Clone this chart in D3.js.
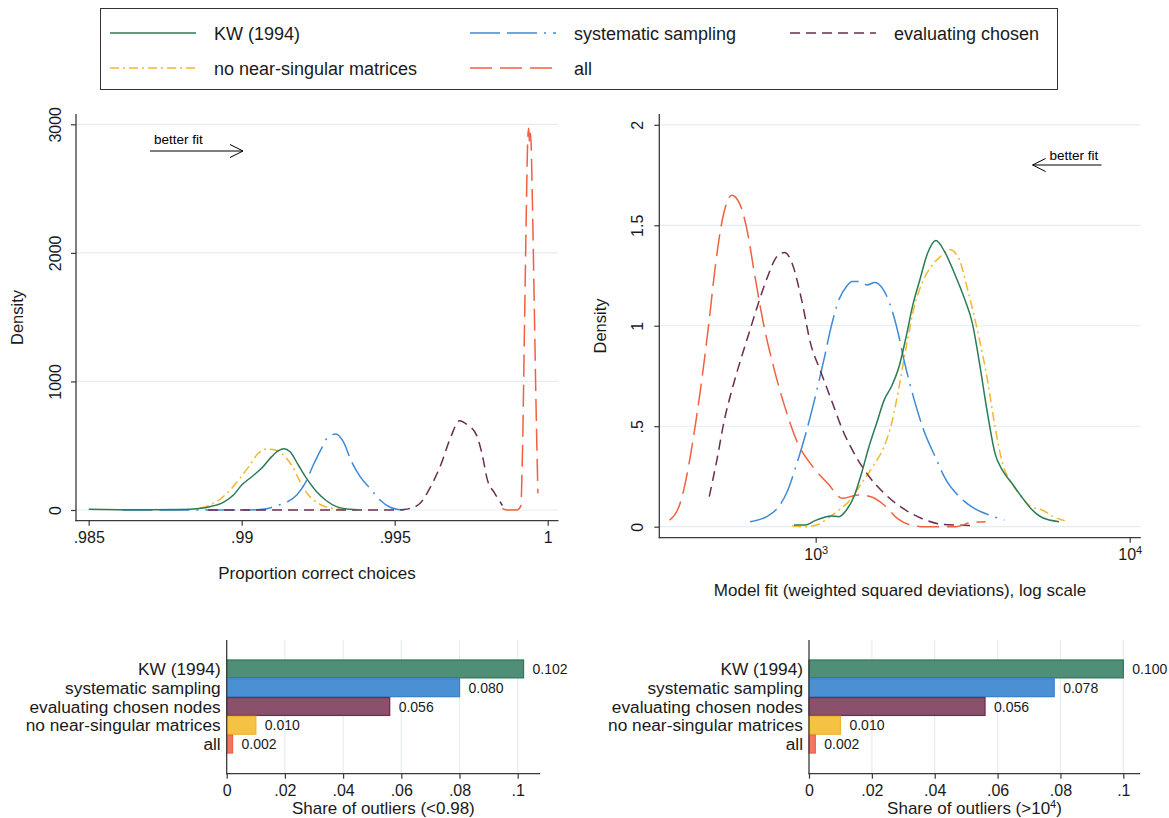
<!DOCTYPE html>
<html>
<head>
<meta charset="utf-8">
<script src="https://cdn.jsdelivr.net/npm/d3@7"></script>
<style>
  body { margin: 0; background: #fff; }
  svg { font-family: "Liberation Sans", Arial, sans-serif; }
</style>
</head>
<body>
<svg id="chart" width="1169" height="818"></svg>
<script>
// ---- data ----

// legend / series order
var seriesNames = ["KW (1994)", "systematic sampling", "evaluating chosen", "no near-singular matrices", "all"];

// top left: density of proportion of correct choices, [proportion, density]
var kwProp = [[0.985,5],[0.986,2],[0.987,1],[0.988,3],[0.9886,12],[0.98896,26],[0.9894,60],[0.98973,117],[0.99,194],
  [0.99033,259],[0.99065,324],[0.99098,415],[0.9912,461],[0.99138,477],[0.99158,453],[0.99185,350],[0.99212,246],
  [0.99245,142],[0.99278,70],[0.9931,26],[0.99354,5],[0.9938,1]];
var sysProp = [[0.9861,0],[0.988,0],[0.99,0],[0.9905,2],[0.99085,12],[0.99114,34],[0.99147,60],[0.9918,117],[0.99207,207],
  [0.99234,350],[0.99261,480],[0.99283,570],[0.99308,591],[0.99332,531],[0.99359,376],[0.99387,259],[0.99419,169],
  [0.99452,78],[0.99485,21],[0.99512,3],[0.9953,0]];
var evalProp = [[0.9889,0],[0.991,0],[0.993,0],[0.995,0],[0.9953,4],[0.9955,13],[0.99583,52],[0.99615,170],[0.99652,360],
  [0.99682,560],[0.99712,694],[0.99736,665],[0.99767,584],[0.99785,441],[0.99803,234],[0.99827,130],[0.99852,35]];
var nearProp = [[0.98864,13],[0.98918,65],[0.98962,155],[0.98994,246],[0.99027,350],[0.99054,441],[0.99082,474],
  [0.99109,467],[0.99136,428],[0.99163,350],[0.99191,220],[0.99218,117],[0.99256,44],[0.99299,13],[0.99354,3]];
var allProp = [[0.99852,12],[0.99865,0],[0.999,0],[0.99912,30],[0.99918,500],[0.99924,1400],[0.9993,2300],[0.99935,2900],
  [0.99938,2970],[0.99941,2850],[0.99944,2930],[0.9995,2400],[0.99956,1600],[0.99962,800],[0.99968,130]];

// top right: density of model fit, [log10 of weighted squared deviations, density]
var kwFit = [[2.931,0.008],[2.966,0.008],[2.998,0.03],[3.026,0.046],[3.05,0.053],[3.074,0.05],[3.098,0.083],[3.122,0.15],
  [3.146,0.266],[3.17,0.4],[3.194,0.515],[3.218,0.63],[3.242,0.7],[3.266,0.8],[3.29,0.96],[3.308,1.095],[3.332,1.23],
  [3.356,1.36],[3.383,1.424],[3.41,1.37],[3.446,1.245],[3.475,1.13],[3.499,1.012],[3.523,0.8],[3.547,0.565],[3.571,0.365],
  [3.595,0.28],[3.625,0.216],[3.655,0.15],[3.685,0.091],[3.721,0.046],[3.775,0.025]];
var sysFit = [[2.791,0.025],[2.844,0.05],[2.886,0.108],[2.908,0.17],[2.937,0.3],[2.966,0.45],[2.996,0.63],[3.026,0.83],
  [3.05,1.0],[3.074,1.13],[3.098,1.195],[3.116,1.22],[3.14,1.22],[3.164,1.203],[3.188,1.215],[3.212,1.187],[3.236,1.11],
  [3.26,0.98],[3.284,0.81],[3.314,0.63],[3.344,0.48],[3.38,0.35],[3.416,0.23],[3.457,0.15],[3.505,0.091],[3.553,0.058],
  [3.601,0.033]];
var evalFit = [[2.661,0.15],[2.685,0.33],[2.709,0.53],[2.733,0.68],[2.757,0.81],[2.787,0.96],[2.817,1.11],[2.847,1.245],
  [2.877,1.345],[2.901,1.365],[2.925,1.31],[2.955,1.13],[2.984,0.91],[3.014,0.78],[3.05,0.63],[3.086,0.48],[3.128,0.35],
  [3.17,0.25],[3.218,0.166],[3.278,0.091],[3.338,0.041],[3.398,0.013],[3.457,0.008],[3.505,0.005]];
var nearFit = [[2.925,0.003],[2.966,0],[3.002,0.008],[3.038,0.041],[3.074,0.083],[3.11,0.133],[3.146,0.216],[3.182,0.3],
  [3.218,0.4],[3.242,0.515],[3.266,0.7],[3.29,0.91],[3.314,1.095],[3.338,1.21],[3.368,1.295],[3.398,1.345],[3.428,1.378],
  [3.457,1.33],[3.487,1.16],[3.517,0.963],[3.547,0.73],[3.571,0.498],[3.595,0.315],[3.625,0.216],[3.655,0.15],[3.685,0.1],
  [3.721,0.083],[3.757,0.05],[3.793,0.03]];
var allFit = [[2.535,0.033],[2.571,0.13],[2.595,0.3],[2.619,0.53],[2.643,0.8],[2.661,1.03],[2.679,1.28],[2.703,1.53],
  [2.733,1.65],[2.757,1.61],[2.781,1.48],[2.805,1.26],[2.835,1.0],[2.865,0.8],[2.901,0.6],[2.943,0.415],[2.99,0.3],
  [3.038,0.216],[3.086,0.141],[3.134,0.158],[3.176,0.149],[3.218,0.108],[3.26,0.041],[3.302,0.008],[3.35,0],[3.446,0],
  [3.493,0.02],[3.541,0.025]];

// bottom: share of outliers
var barCategories = ["KW (1994)", "systematic sampling", "evaluating chosen nodes", "no near-singular matrices", "all"];
var shareLow = [0.102, 0.080, 0.056, 0.010, 0.002];   // proportion correct < 0.98
var shareHigh = [0.100, 0.078, 0.056, 0.010, 0.002];  // fit > 10^4

// tick values
var propTicks = [0.985, 0.99, 0.995, 1];
var propDensityTicks = [0, 1000, 2000, 3000];
var fitTicks = [1000, 10000];
var fitDensityTicks = [0, 0.5, 1, 1.5, 2];
var shareTicks = [0, 0.02, 0.04, 0.06, 0.08, 0.1];

// ---- styles ----
var lineStyle = [
  {color: "#2a7b56", dash: null},
  {color: "#3d8bd8", dash: "30,7,30,7,2,7"},
  {color: "#6b2d50", dash: "10,6"},
  {color: "#f4b728", dash: "9,4,2,4"},
  {color: "#f1603f", dash: "22,8"}
];
var barFill = ["#508f77", "#4b90d3", "#8a506c", "#f5c243", "#ef7961"];
var barStroke = ["#2f7a5a", "#3a82cc", "#6d2f4f", "#f0b52e", "#ec644c"];
var axisColor = "#3a3a3a";
var gridColor = "#e5edf0";

var svg = d3.select("#chart");
svg.append("rect").attr("width", 1169).attr("height", 818).attr("fill", "#fff");

// Stata style numbers: drop the leading zero
function stataNum(d) {
  return d3.format("~g")(d).replace(/^0\./, ".");
}

function styleAxis(g, size) {
  g.select(".domain").remove();
  g.selectAll(".tick line").attr("stroke", axisColor).attr("stroke-width", 1.2);
  g.selectAll(".tick text").attr("fill", "#1a1a1a").attr("font-size", size || 16).attr("font-family", null);
}

// rotate y tick labels like Stata does
function rotateLabels(g, offset) {
  g.selectAll(".tick text")
    .attr("transform", "rotate(-90)")
    .attr("x", 0).attr("y", -offset).attr("dy", 0)
    .attr("text-anchor", "middle");
}

function drawLine(g, x1, y1, x2, y2, w) {
  g.append("line").attr("x1", x1).attr("y1", y1).attr("x2", x2).attr("y2", y2)
    .attr("stroke", axisColor).attr("stroke-width", w || 1.3);
}

function drawCurve(g, data, style, xs, ys, xval) {
  var line = d3.line()
    .x(function(d) { return xs(xval ? xval(d[0]) : d[0]); })
    .y(function(d) { return ys(d[1]); })
    .curve(d3.curveMonotoneX);
  g.append("path").datum(data).attr("d", line)
    .attr("fill", "none").attr("stroke", style.color).attr("stroke-width", 1.5)
    .attr("stroke-dasharray", style.dash);
}

function arrow(g, x1, x2, y, label, tx, ty) {
  var dir = x2 > x1 ? -1 : 1;
  g.append("line").attr("x1", x1).attr("x2", x2).attr("y1", y).attr("y2", y)
    .attr("stroke", "#000").attr("stroke-width", 1);
  g.append("path").attr("d", "M" + (x2 + dir * 13) + "," + (y - 6.5) + "L" + x2 + "," + y + "L" + (x2 + dir * 13) + "," + (y + 6.5))
    .attr("fill", "none").attr("stroke", "#000").attr("stroke-width", 1);
  g.append("text").attr("x", tx).attr("y", ty).attr("font-size", 13.5).attr("fill", "#000").text(label);
}

// ---- legend ----
var legend = svg.append("g");
legend.append("rect").attr("x", 100.5).attr("y", 8.5).attr("width", 957).attr("height", 81)
  .attr("fill", "#fff").attr("stroke", "#333").attr("stroke-width", 1);
var legendCols = [110, 470, 790];
var legendRows = [33, 68];
seriesNames.forEach(function(name, i) {
  var lx = legendCols[i % 3], ly = legendRows[Math.floor(i / 3)];
  legend.append("line").attr("x1", lx).attr("x2", lx + 86).attr("y1", ly).attr("y2", ly)
    .attr("stroke", lineStyle[i].color).attr("stroke-width", 1.6)
    .attr("stroke-dasharray", lineStyle[i].dash);
  legend.append("text").attr("x", lx + 104).attr("y", ly + 6.5).attr("font-size", 18)
    .attr("fill", "#1a1a1a").text(name);
});

// ---- top left: proportion correct choices ----
var xL = d3.scaleLinear().domain([0.985, 1]).range([88.7, 547.7]);
var yL = d3.scaleLinear().domain([0, 3000]).range([510, 124.3]);
var left = svg.append("g");

left.selectAll(".grid").data(propDensityTicks).enter().append("line")
  .attr("x1", 76).attr("x2", 558).attr("y1", function(d) { return yL(d); }).attr("y2", function(d) { return yL(d); })
  .attr("stroke", gridColor).attr("stroke-width", 1.2);

var leftData = [kwProp, sysProp, evalProp, nearProp, allProp];
[3, 1, 2, 4, 0].forEach(function(i) { drawCurve(left, leftData[i], lineStyle[i], xL, yL); });

drawLine(left, 76, 114, 76, 521.3);
drawLine(left, 75.4, 520.7, 558.5, 520.7);

left.append("g").attr("transform", "translate(0,520.7)")
  .call(d3.axisBottom(xL).tickValues(propTicks).tickSize(5).tickPadding(6).tickFormat(stataNum))
  .call(styleAxis);
left.append("g").attr("transform", "translate(76,0)")
  .call(d3.axisLeft(yL).tickValues(propDensityTicks).tickSize(5).tickFormat(stataNum))
  .call(styleAxis).call(rotateLabels, 15);

left.append("text").attr("x", 317).attr("y", 578.5).attr("text-anchor", "middle").attr("font-size", 17)
  .attr("fill", "#1a1a1a").text("Proportion correct choices");
left.append("text").attr("transform", "translate(23,317.5) rotate(-90)").attr("text-anchor", "middle")
  .attr("font-size", 16.5).attr("fill", "#1a1a1a").text("Density");
arrow(left, 150, 243, 151, "better fit", 154, 143.5);

// ---- top right: model fit, log scale ----
var xR = d3.scaleLog().domain([1000, 10000]).range([815.7, 1129.7]);
var yR = d3.scaleLinear().domain([0, 2]).range([526.7, 124.8]);
var right = svg.append("g");

right.selectAll(".grid").data(fitDensityTicks).enter().append("line")
  .attr("x1", 659.3).attr("x2", 1140.5).attr("y1", function(d) { return yR(d); }).attr("y2", function(d) { return yR(d); })
  .attr("stroke", gridColor).attr("stroke-width", 1.2);

var rightData = [kwFit, sysFit, evalFit, nearFit, allFit];
function fromLog(e) { return Math.pow(10, e); }
[3, 1, 2, 4, 0].forEach(function(i) { drawCurve(right, rightData[i], lineStyle[i], xR, yR, fromLog); });

drawLine(right, 659.3, 114, 659.3, 538.3);
drawLine(right, 658.7, 537.7, 1140.8, 537.7);

var xAxisR = right.append("g").attr("transform", "translate(0,537.7)")
  .call(d3.axisBottom(xR).tickValues(fitTicks).tickSize(5).tickPadding(6).tickFormat(function() { return ""; }))
  .call(styleAxis);
xAxisR.selectAll(".tick text").each(function(d) {
  var t = d3.select(this);
  t.append("tspan").text("10");
  t.append("tspan").attr("baseline-shift", "6").attr("font-size", 11).text(Math.round(Math.log10(d)));
});
right.append("g").attr("transform", "translate(659.3,0)")
  .call(d3.axisLeft(yR).tickValues(fitDensityTicks).tickSize(5).tickFormat(stataNum))
  .call(styleAxis).call(rotateLabels, 16);

right.append("text").attr("x", 900).attr("y", 596).attr("text-anchor", "middle").attr("font-size", 17)
  .attr("fill", "#1a1a1a").text("Model fit (weighted squared deviations), log scale");
right.append("text").attr("transform", "translate(605.5,326) rotate(-90)").attr("text-anchor", "middle")
  .attr("font-size", 16.5).attr("fill", "#1a1a1a").text("Density");
arrow(right, 1101.5, 1032.6, 165, "better fit", 1049.6, 159.5);

// ---- bottom: share of outliers bar charts ----
function barPanel(values, x0, x1, xEnd, titleParts) {
  var g = svg.append("g");
  var xs = d3.scaleLinear().domain([0, 0.1]).range([x0, x1]);
  var ys = d3.scaleBand().domain(barCategories).range([660, 753]).paddingInner(0.05);
  var axisY = 773.7;

  g.selectAll(".grid").data(shareTicks.slice(1)).enter().append("line")
    .attr("x1", function(d) { return xs(d); }).attr("x2", function(d) { return xs(d); })
    .attr("y1", 640).attr("y2", axisY).attr("stroke", gridColor).attr("stroke-width", 1.2);

  g.selectAll(".bar").data(values).enter().append("rect")
    .attr("x", xs(0)).attr("y", function(d, i) { return ys(barCategories[i]); })
    .attr("width", function(d) { return xs(d) - xs(0); })
    .attr("height", ys.bandwidth())
    .attr("fill", function(d, i) { return barFill[i]; })
    .attr("stroke", function(d, i) { return barStroke[i]; }).attr("stroke-width", 1.3);

  g.selectAll(".val").data(values).enter().append("text")
    .attr("x", function(d) { return xs(d) + 9; })
    .attr("y", function(d, i) { return ys(barCategories[i]) + ys.bandwidth() / 2 + 5; })
    .attr("font-size", 14).attr("fill", "#1a1a1a")
    .text(function(d) { return d3.format(".3f")(d); });

  g.selectAll(".cat").data(barCategories).enter().append("text")
    .attr("x", x0 - 6).attr("y", function(d) { return ys(d) + ys.bandwidth() / 2 + 6; })
    .attr("text-anchor", "end").attr("font-size", 17.3).attr("fill", "#1a1a1a")
    .text(function(d) { return d; });

  drawLine(g, x0, 640, x0, axisY + 0.6);
  drawLine(g, x0 - 0.6, axisY, xEnd, axisY);
  g.append("g").attr("transform", "translate(0," + axisY + ")")
    .call(d3.axisBottom(xs).tickValues(shareTicks).tickSize(5).tickPadding(6).tickFormat(stataNum))
    .call(styleAxis);

  var title = g.append("text").attr("x", (x0 + xEnd) / 2).attr("y", 813.5).attr("text-anchor", "middle")
    .attr("font-size", 17).attr("fill", "#1a1a1a");
  title.append("tspan").text(titleParts[0]);
  if (titleParts[1]) {
    title.append("tspan").attr("baseline-shift", "6").attr("font-size", 11).text(titleParts[1]);
    title.append("tspan").text(titleParts[2]);
  }
}

barPanel(shareLow, 226.7, 517.7, 540, ["Share of outliers (<0.98)"]);
barPanel(shareHigh, 809, 1123.3, 1140, ["Share of outliers (>10", "4", ")"]);
</script>
</body>
</html>
